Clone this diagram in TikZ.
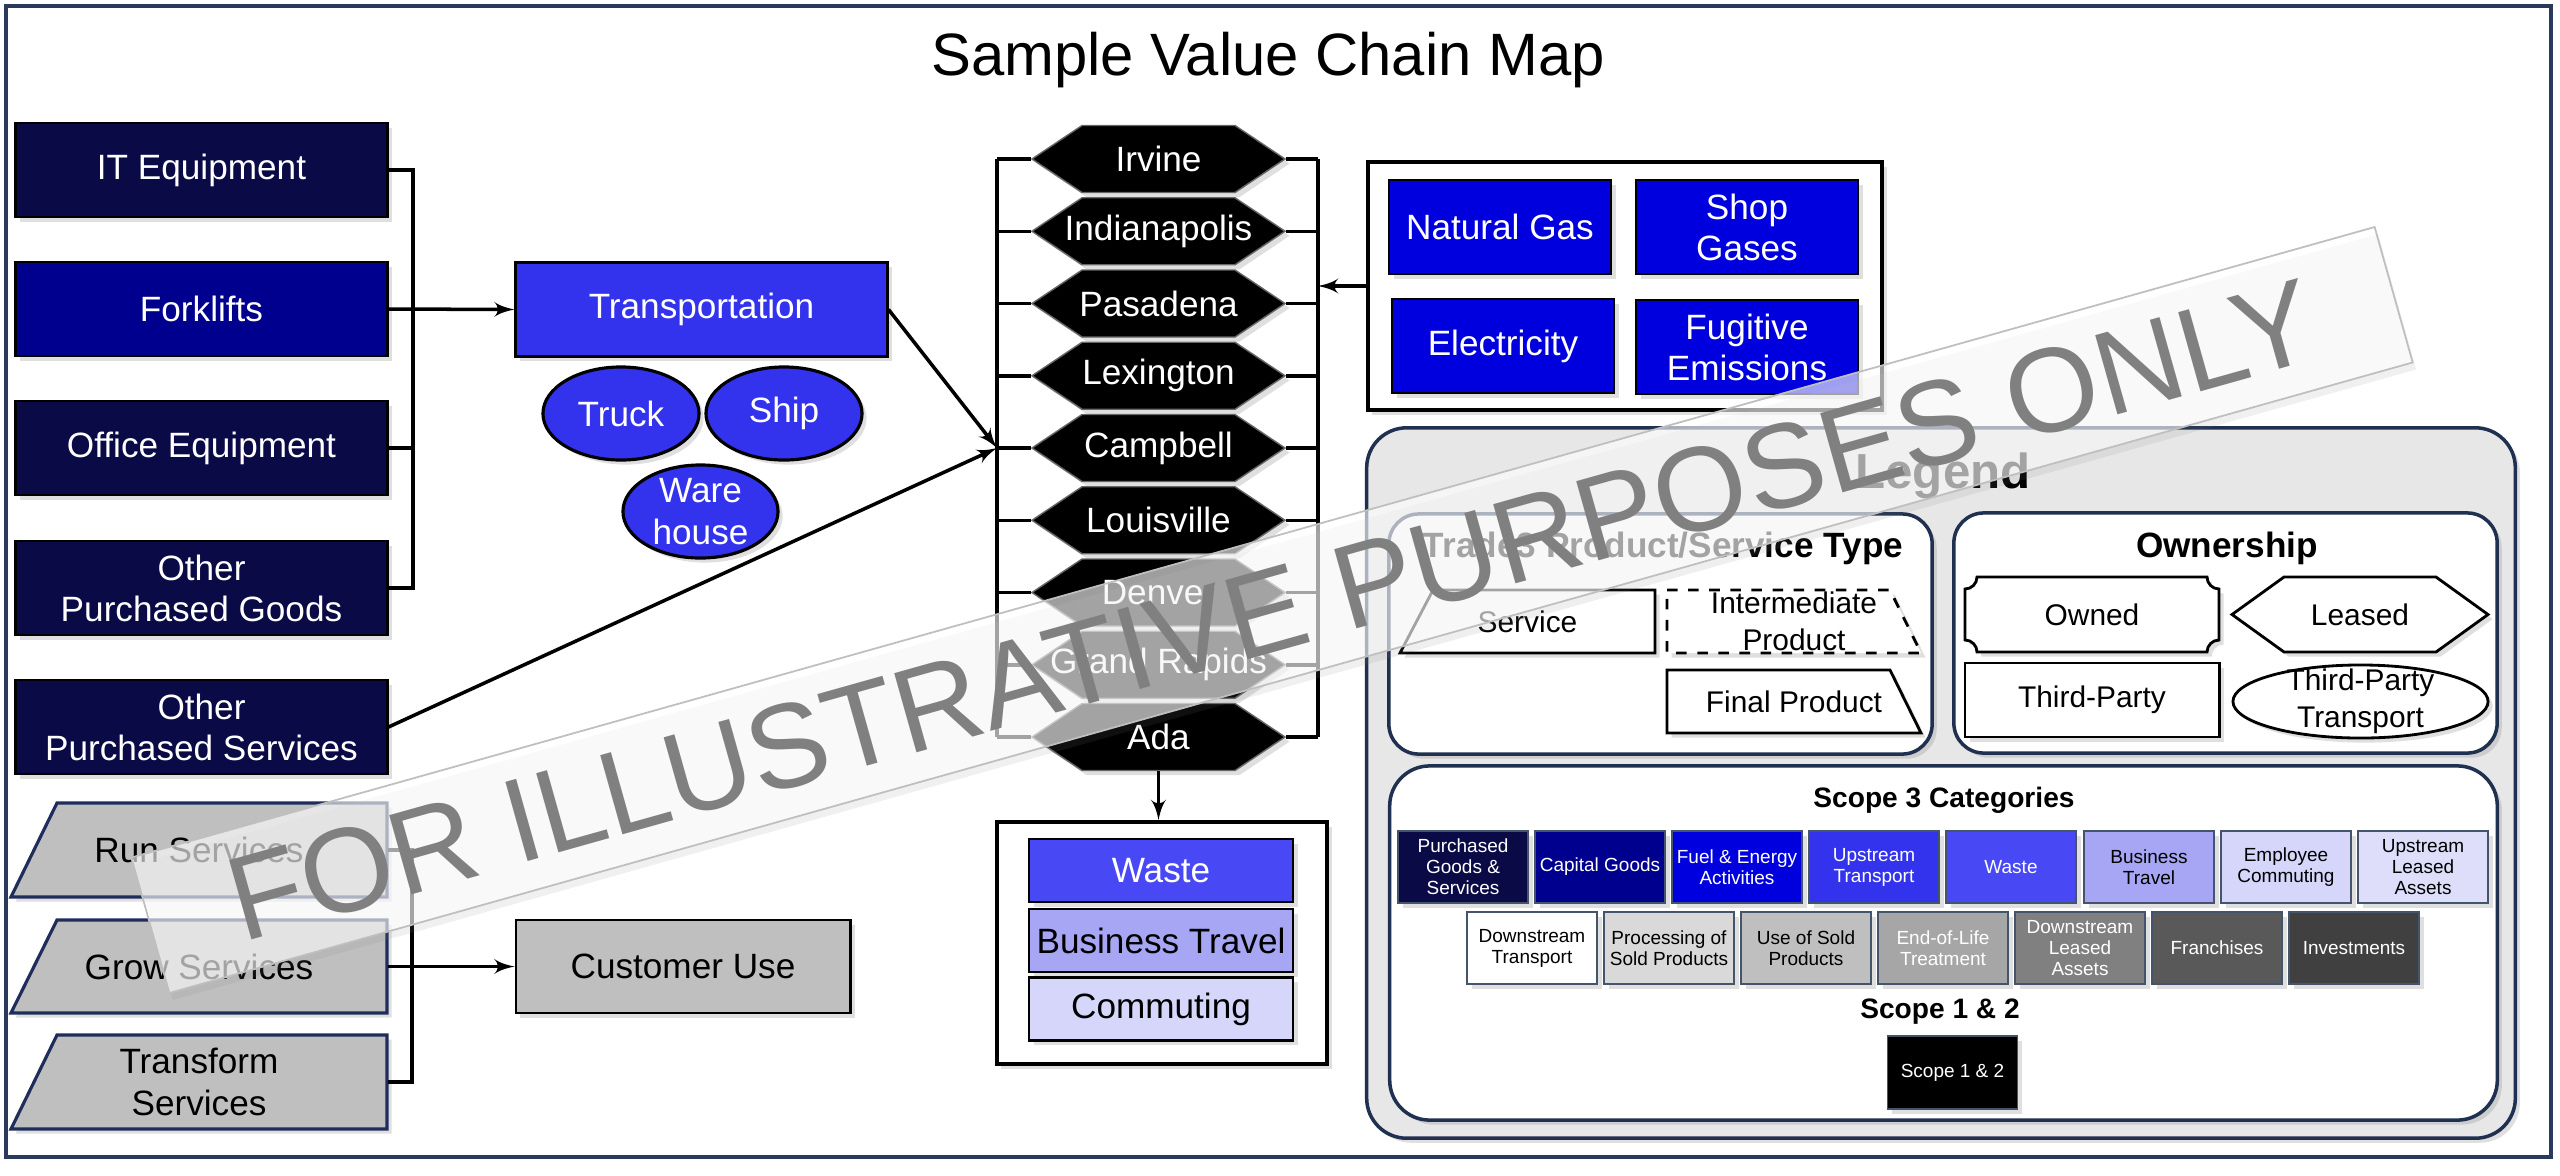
\documentclass[tikz,border=0pt]{standalone}
\usepackage{fontspec}
\setmainfont{Liberation Sans}
\usetikzlibrary{arrows, arrows.meta, positioning, shadows}

\definecolor{pgsnavy}{HTML}{0A0A46}
\definecolor{capnavy}{HTML}{00008F}
\definecolor{fuelblue}{HTML}{0000DE}
\definecolor{upblue}{HTML}{3333EE}
\definecolor{wasteblue}{HTML}{4848F5}
\definecolor{travelblue}{HTML}{A6A6F4}
\definecolor{commuteblue}{HTML}{D6D6FA}
\definecolor{ulablue}{HTML}{DEDEFA}
\definecolor{procgray}{HTML}{D9D9D9}
\definecolor{usegray}{HTML}{BFBFBF}
\definecolor{eolgray}{HTML}{A6A6A6}
\definecolor{dlagray}{HTML}{808080}
\definecolor{frgray}{HTML}{595959}
\definecolor{invgray}{HTML}{404040}
\definecolor{framenavy}{HTML}{2A3A5C}
\definecolor{panelnavy}{HTML}{1F3050}
\definecolor{svcnavy}{HTML}{1F2D5C}
\definecolor{catedge}{HTML}{44546A}
\definecolor{legendgray}{HTML}{E7E7E7}

\begin{document}
\begin{tikzpicture}[x=0.01cm, y=-0.01cm]

\tikzset{softshadow/.style = {drop shadow={shadow xshift=1.3pt, shadow yshift=-1.3pt, opacity=0.25}}}
\tikzset{wire/.style = {line width=1pt, black}}
\tikzset{flow/.style = {wire, ->, >=latex'}}
\tikzset{itembox/.style = {shape=rectangle, draw=black, line width=0.8pt, minimum width=3.71cm, minimum height=0.94cm, inner sep=1pt, align=center, text=white, font=\fontsize{10}{11.7}\selectfont, softshadow}}
\tikzset{svcshape/.style = {fill=usegray, draw=svcnavy, line width=0.9pt, softshadow}}
\tikzset{svctext/.style = {minimum width=3.76cm, minimum height=0.94cm, inner sep=0pt, align=center, font=\fontsize{10}{11.7}\selectfont}}
\tikzset{ovalshape/.style = {fill=upblue, draw=black, line width=0.9pt, softshadow}}
\tikzset{ovaltext/.style = {inner sep=0pt, align=center, text=white, font=\fontsize{10}{11.7}\selectfont}}
\tikzset{cityshape/.style = {fill=black, draw=black!60, line width=0.4pt, softshadow}}
\tikzset{citytext/.style = {minimum width=2.53cm, minimum height=0.67cm, inner sep=0pt, text=white, font=\fontsize{10}{11.7}\selectfont}}
\tikzset{groupbox/.style = {shape=rectangle, draw=black, fill=white, line width=1.1pt, softshadow}}
\tikzset{panel/.style = {shape=rectangle, draw=panelnavy, line width=1pt, rounded corners=0.3cm, softshadow}}
\tikzset{subtitle/.style = {font=\bfseries\fontsize{10}{12}\selectfont}}
\tikzset{legshape/.style = {fill=white, draw=black, line width=0.8pt, softshadow}}
\tikzset{legtext/.style = {inner sep=0pt, align=center, font=\fontsize{8.5}{10.5}\selectfont}}
\tikzset{legbox/.style = {legshape, shape=rectangle, minimum width=2.54cm, minimum height=0.74cm, font=\fontsize{8.5}{10.5}\selectfont}}
\tikzset{catbox/.style = {shape=rectangle, draw=catedge, line width=0.5pt, minimum width=1.30cm, minimum height=0.72cm, inner sep=0pt, align=center, font=\fontsize{5.4}{6}\selectfont, softshadow}}
\tikzset{watermark/.style = {rotate=15.7, fill=white, fill opacity=0.62, text opacity=1, text=black!50, draw=black!25, line width=0.5pt, font=\fontsize{34}{40}\selectfont, inner xsep=24pt, minimum height=40pt, drop shadow={shadow xshift=1pt, shadow yshift=-2pt, opacity=0.12}}}

\useasboundingbox (0,0) rectangle (2560,1175);
\draw[framenavy, line width=1.2pt] (6,6) rectangle (2551,1157);
\node[font=\fontsize{17}{20}\selectfont] (title) at (1268,60) {Sample Value Chain Map};

% purchased goods
\node[itembox, fill=pgsnavy] (itequip) at (201.5,170) {IT Equipment};
\node[itembox, fill=capnavy] (forklift) at (201.5,309) {Forklifts};
\node[itembox, fill=pgsnavy] (officeeq) at (201.5,448) {Office Equipment};
\node[itembox, fill=pgsnavy] (othergoods) at (201.5,588) {Other\\Purchased Goods};
\node[itembox, fill=pgsnavy] (otherserv) at (201.5,727) {Other\\Purchased Services};

% services
\path[svcshape] (11,897) -- (57,803) -- (387,803) -- (387,897) -- cycle;
\node[svctext] (runserv) at (199,850) {Run Services};
\path[svcshape] (11,1013) -- (57,920) -- (387,920) -- (387,1013) -- cycle;
\node[svctext] (growserv) at (199,966.5) {Grow Services};
\path[svcshape] (11,1129) -- (57,1035) -- (387,1035) -- (387,1129) -- cycle;
\node[svctext] (transserv) at (199,1082) {Transform\\Services};

% transportation
\node[itembox, fill=upblue] (transport) at (701.5,309.5) {Transportation};
\path[ovalshape] (621,413.5) ellipse [x radius=0.78cm, y radius=0.465cm];
\node[ovaltext] (truck) at (621,413.5) {Truck};
\path[ovalshape] (784,413.5) ellipse [x radius=0.78cm, y radius=0.465cm];
\node[ovaltext] (ship) at (784,413.5) {Ship};
\path[ovalshape] (700.5,511.5) ellipse [x radius=0.775cm, y radius=0.465cm];
\node[ovaltext] (warehouse) at (700.5,511.5) {Ware\\house};

% customer use
\node[itembox, fill=usegray, text=black, minimum width=3.34cm, minimum height=0.93cm] (custuse) at (683,966.5) {Customer Use};

% sites
\coordinate (citybarL) at (997,0);
\coordinate (citybarR) at (1318,0);
\foreach \cname [count=\ci] in {Irvine, Indianapolis, Pasadena, Lexington, Campbell, Louisville, Denver, Grand Rapids, Ada} {
  \pgfmathsetmacro\cy{159+72.25*(\ci-1)}
  \path[cityshape] (1032,\cy) -- (1082,\cy-33.5) -- (1235,\cy-33.5) -- (1285,\cy) -- (1235,\cy+33.5) -- (1082,\cy+33.5) -- cycle;
  \node[citytext] (city\ci) at (1158.5,\cy) {\cname};
}
\draw[wire] (city1.west -| citybarL) -- (city9.west -| citybarL);
\draw[wire] (city1.east -| citybarR) -- (city9.east -| citybarR);
\foreach \ci in {1,...,9} {
  \draw[wire] (city\ci.west) -- (city\ci.west -| citybarL);
  \draw[wire] (city\ci.east) -- (city\ci.east -| citybarR);
}

% energy
\node[groupbox, minimum width=5.14cm, minimum height=2.48cm] (energy) at (1625,286) {};
\node[itembox, fill=fuelblue, minimum width=2.22cm] (natgas) at (1500,227) {Natural Gas};
\node[itembox, fill=fuelblue, minimum width=2.22cm] (shopgas) at (1747,227) {Shop\\Gases};
\node[itembox, fill=fuelblue, minimum width=2.22cm] (electric) at (1503,346) {Electricity};
\node[itembox, fill=fuelblue, minimum width=2.22cm] (fugitive) at (1747,347) {Fugitive\\Emissions};

% outputs
\node[groupbox, minimum width=3.30cm, minimum height=2.42cm] (outbox) at (1162,943) {};
\node[itembox, fill=wasteblue, minimum width=2.64cm, minimum height=0.63cm] (waste) at (1161,870.5) {Waste};
\node[itembox, fill=travelblue, text=black, minimum width=2.64cm, minimum height=0.63cm] (travel) at (1161,940.5) {Business Travel};
\node[itembox, fill=commuteblue, text=black, minimum width=2.64cm, minimum height=0.63cm] (commute) at (1161,1009) {Commuting};

% connectors
\coordinate (goodsbar) at (413,0);
\coordinate (svcbar) at (412,0);
\draw[wire] (itequip.east) -- (itequip.east -| goodsbar) -- (othergoods.east -| goodsbar) -- (othergoods.east);
\draw[wire] (officeeq.east) -- (officeeq.east -| goodsbar);
\draw[flow] (forklift.east) -- (transport.west);
\draw[flow] (transport.east) -- (city5.west -| citybarL);
\draw[flow] (otherserv.east) -- (city5.west -| citybarL);
\draw[flow] (energy.west) -- (energy.west -| citybarR);
\draw[flow] (city9.south) -- (city9.south |- outbox.north);
\draw[wire] (runserv.east) -- (runserv.east -| svcbar) -- (transserv.east -| svcbar) -- (transserv.east);
\draw[flow] (growserv.east) -- (custuse.west);

% legend
\node[panel, fill=legendgray, minimum width=11.48cm, minimum height=7.10cm, rounded corners=0.4cm] (legend) at (1941,783) {};
\node[font=\bfseries\fontsize{14}{16}\selectfont] (legendtitle) at (1943,476) {Legend};

\node[panel, fill=white, minimum width=5.43cm, minimum height=2.40cm] (typepanel) at (1660.5,634) {};
\node[subtitle] (typetitle) at (1663,548) {Trade3 Product/Service Type};
\path[legshape] (1400,653) -- (1433,590) -- (1655,590) -- (1655,653) -- cycle;
\node[legtext] (svclegend) at (1527.5,621.5) {Service};
\path[legshape, dashed] (1667,590) -- (1890,590) -- (1921,653) -- (1667,653) -- cycle;
\node[legtext] (intlegend) at (1794,621.5) {Intermediate\\Product};
\path[legshape] (1667,670) -- (1890,670) -- (1921,733) -- (1667,733) -- cycle;
\node[legtext] (finlegend) at (1794,701.5) {Final Product};

\node[panel, fill=white, minimum width=5.43cm, minimum height=2.40cm] (ownpanel) at (2225.5,633) {};
\node[subtitle] (owntitle) at (2227,548) {Ownership};
\path[legshape] (1965,589) .. controls (1971.6,589) and (1977,583.6) .. (1977,577) -- (2207,577) .. controls (2207,583.6) and (2212.4,589) .. (2219,589) -- (2219,640) .. controls (2212.4,640) and (2207,645.4) .. (2207,652) -- (1977,652) .. controls (1977,645.4) and (1971.6,640) .. (1965,640) -- cycle;
\node[legtext] (ownedlegend) at (2092,614.5) {Owned};
\path[legshape] (2232,614.5) -- (2284,577) -- (2436,577) -- (2488,614.5) -- (2436,652) -- (2284,652) -- cycle;
\node[legtext] (leasedlegend) at (2360,614.5) {Leased};
\node[legbox] (tplegend) at (2092,700) {Third-Party};
\path[legshape] (2360.5,701.5) ellipse [x radius=1.275cm, y radius=0.365cm];
\node[legtext] (tptlegend) at (2360.5,701.5) {Third-Party\\Transport};

\node[panel, fill=white, minimum width=11.07cm, minimum height=3.54cm, rounded corners=0.4cm] (scopepanel) at (1943.5,943) {};
\node[font=\bfseries\fontsize{8}{9.5}\selectfont] (s3title) at (1944,800) {Scope 3 Categories};
\node[catbox, fill=pgsnavy, text=white] (cat1) at (1463,867) {Purchased\\Goods \&\\Services};
\node[catbox, fill=capnavy, text=white] (cat2) at (1600,867) {Capital Goods};
\node[catbox, fill=fuelblue, text=white] (cat3) at (1737,867) {Fuel \& Energy\\Activities};
\node[catbox, fill=upblue, text=white] (cat4) at (1874,867) {Upstream\\Transport};
\node[catbox, fill=wasteblue, text=white] (cat5) at (2011,867) {Waste};
\node[catbox, fill=travelblue, text=black] (cat6) at (2149,867) {Business\\Travel};
\node[catbox, fill=commuteblue, text=black] (cat7) at (2286,867) {Employee\\Commuting};
\node[catbox, fill=ulablue, text=black] (cat8) at (2423,867) {Upstream\\Leased\\Assets};
\node[catbox, fill=white, text=black] (cat9) at (1532,948) {Downstream\\Transport};
\node[catbox, fill=procgray, text=black] (cat10) at (1669,948) {Processing of\\Sold Products};
\node[catbox, fill=usegray, text=black] (cat11) at (1806,948) {Use of Sold\\Products};
\node[catbox, fill=eolgray, text=white] (cat12) at (1943,948) {End-of-Life\\Treatment};
\node[catbox, fill=dlagray, text=white] (cat13) at (2080,948) {Downstream\\Leased\\Assets};
\node[catbox, fill=frgray, text=white] (cat14) at (2217,948) {Franchises};
\node[catbox, fill=invgray, text=white] (cat15) at (2354,948) {Investments};
\node[font=\bfseries\fontsize{8}{9.5}\selectfont] (s12title) at (1940,1012) {Scope 1 \& 2};
\node[catbox, fill=black, text=white, minimum height=0.73cm] (s12) at (1952.5,1072.5) {Scope 1 \& 2};

% watermark
\node[watermark] (wmark) at (1272,610) {FOR ILLUSTRATIVE PURPOSES ONLY};
\end{tikzpicture}
\end{document}
